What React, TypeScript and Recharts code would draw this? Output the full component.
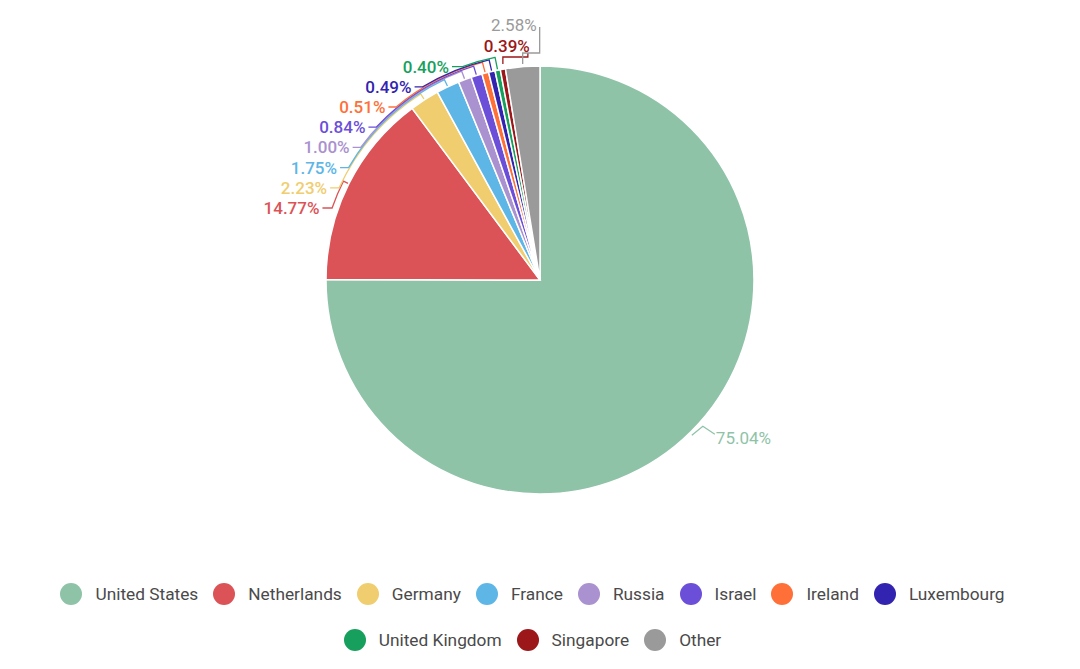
import React from "react";
import { PieChart, Pie, Cell, Legend } from "recharts";

const categories = [
  "United States",
  "Netherlands",
  "Germany",
  "France",
  "Russia",
  "Israel",
  "Ireland",
  "Luxembourg",
  "United Kingdom",
  "Singapore",
  "Other",
];
const shares = [75.04, 14.77, 2.23, 1.75, 1.0, 0.84, 0.51, 0.49, 0.4, 0.39, 2.58];
const COLORS = [
  "#8fc3a8",
  "#dc5357",
  "#f0cd6e",
  "#5db6e6",
  "#aa91cf",
  "#6b4fd9",
  "#ff7038",
  "#3224b0",
  "#17a05d",
  "#9b1719",
  "#9a9a9a",
];

const data = categories.map((name, i) => ({ name, value: shares[i] }));

const RAD = Math.PI / 180;
const FONT = "Roboto, 'Noto Sans', sans-serif";

const renderLabel = (props: any) => {
  const { cx, cy, midAngle, outerRadius: r, index } = props;
  const color = COLORS[index];
  const text = shares[index].toFixed(2) + "%";
  const pt = (radius: number) => [
    cx + radius * Math.cos(-midAngle * RAD),
    cy + radius * Math.sin(-midAngle * RAD),
  ];
  const textProps = {
    fill: color,
    fontSize: 17,
    fontWeight: 500,
    fontFamily: FONT,
    dominantBaseline: "central" as const,
  };
  const lineProps = { stroke: color, strokeWidth: 1.3, fill: "none" };

  if (index === 0) {
    const [x0, y0] = pt(r + 1);
    return (
      <g key={index}>
        <path d={`M${x0},${y0 + 3} L${x0 + 11},${y0 - 6} L${x0 + 23},${y0 + 2}`} {...lineProps} />
        <text x={x0 + 24} y={y0 + 6} textAnchor="start" {...textProps} fontWeight={400}>
          {text}
        </text>
      </g>
    );
  }

  if (index >= 9) {
    // labels above the top of the pie, drawn with small brackets
    const [x0] = pt(r);
    const top = cy - r;
    if (index === 9) {
      return (
        <g key={index}>
          <path
            d={`M${x0},${top - 2} L${x0},${top - 9} L${x0 + 25},${top - 9} L${x0 + 25},${top - 13}`}
            {...lineProps}
          />
          <text x={x0 + 27} y={top - 20} textAnchor="end" {...textProps}>
            {text}
          </text>
        </g>
      );
    }
    return (
      <g key={index}>
        <path
          d={`M${x0},${top - 2} L${x0},${top - 13} L${x0 + 17},${top - 13} L${x0 + 17},${top - 39}`}
          {...lineProps}
        />
        <text x={x0 + 14} y={top - 41} textAnchor="end" {...textProps} fontWeight={400}>
          {text}
        </text>
      </g>
    );
  }

  // stacked labels on the upper-left side
  const dy = 72 + (index - 1) * 20.2;
  const ly = cy - dy;
  const ar = r + 5 + index;
  const ax = cx - Math.sqrt(ar * ar - dy * dy);
  const tr = r + 18;
  const tx = cx - Math.sqrt(tr * tr - dy * dy);
  const [mx, my] = pt(ar);
  const [ex, ey] = pt(r + 1);
  return (
    <g key={index}>
      <path
        d={`M${tx + 3},${ly} L${ax},${ly} A${ar},${ar} 0 0 1 ${mx},${my} L${ex},${ey}`}
        {...lineProps}
      />
      <text x={tx} y={ly} textAnchor="end" {...textProps}>
        {text}
      </text>
    </g>
  );
};

const renderLegend = () => (
  <div
    style={{
      display: "flex",
      flexWrap: "wrap",
      justifyContent: "center",
      rowGap: 24,
      width: 990,
      margin: "0 auto",
      fontFamily: FONT,
    }}
  >
    {categories.map((name, i) => (
      <div key={name} style={{ display: "flex", alignItems: "center", marginRight: 15 }}>
        <span
          style={{
            width: 22,
            height: 22,
            borderRadius: "50%",
            background: COLORS[i],
            marginRight: 13,
            display: "inline-block",
          }}
        />
        <span style={{ fontSize: 17.3, color: "#4a4a4a", lineHeight: "22px" }}>{name}</span>
      </div>
    ))}
  </div>
);

export default function App() {
  return (
    <div style={{ position: "absolute", left: 0, top: 0, width: 1080, height: 669, background: "#fff" }}>
      <PieChart width={1080} height={669} margin={{ top: 0, right: 0, bottom: 0, left: 0 }}>
        <Pie
          data={data}
          dataKey="value"
          nameKey="name"
          cx={540}
          cy={280}
          outerRadius={214}
          startAngle={90}
          endAngle={-270}
          stroke="#fff"
          strokeWidth={1.5}
          label={renderLabel}
          labelLine={false}
          isAnimationActive={false}
        >
          {data.map((d, i) => (
            <Cell key={d.name} fill={COLORS[i]} />
          ))}
        </Pie>
        <Legend content={renderLegend} wrapperStyle={{ top: 583, left: 0, width: 1080 }} />
      </PieChart>
    </div>
  );
}
